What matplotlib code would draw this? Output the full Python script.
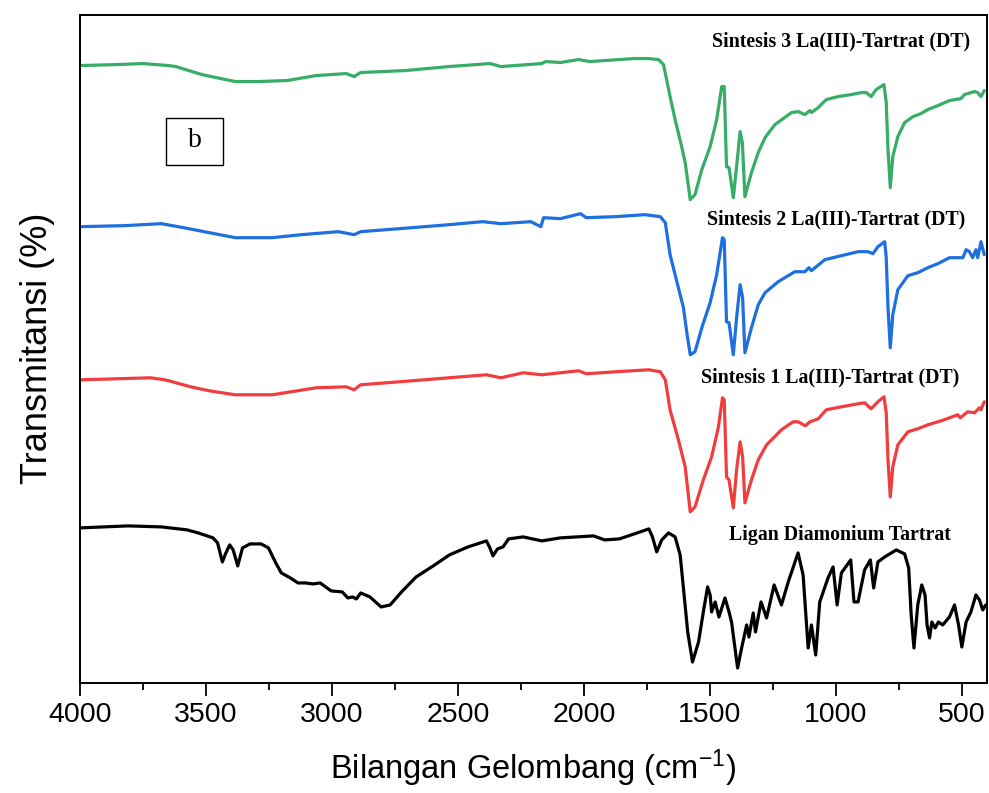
import matplotlib
matplotlib.use("Agg")
import matplotlib.pyplot as plt
from matplotlib.patches import Rectangle
from matplotlib.ticker import MultipleLocator

# FTIR spectra (wavenumber in cm^-1, stacked transmittance in arbitrary units)
wn_s3 = [4000, 3853, 3751, 3648, 3620, 3517, 3384, 3296, 3179, 3062, 2944, 2912, 2886,
         2709, 2535, 2373, 2329, 2167, 2152, 2094, 2021, 1977, 1800, 1743, 1704, 1684,
         1658, 1638, 1612, 1598, 1578, 1559, 1532, 1499, 1473, 1453, 1443, 1434, 1424,
         1407, 1394, 1380, 1371, 1361, 1335, 1308, 1281, 1242, 1176, 1150, 1123, 1103,
         1097, 1070, 1038, 991, 939, 899, 879, 860, 840, 809, 800, 793, 784, 774, 754,
         727, 694, 662, 635, 595, 549, 503, 490, 464, 450, 437, 424, 411]
t_s3 = [617, 618, 619, 617, 616, 608, 601, 601, 602, 607, 609, 606, 610,
        612, 616, 619, 616, 619, 621, 620, 623, 621, 624, 624, 623, 618,
        586, 563, 536, 520, 483, 488, 513, 536, 563, 596, 596, 516, 515,
        485, 516, 551, 540, 486, 510, 530, 545, 558, 570, 571, 568, 572,
        570, 575, 583, 586, 588, 590, 590, 586, 593, 598, 580, 533, 495, 526, 546,
        560, 566, 569, 573, 577, 582, 584, 588, 590, 591, 590, 586, 592]

wn_s2 = [4000, 3826, 3677, 3589, 3487, 3384, 3237, 3121, 2975, 2912, 2886, 2682, 2535,
         2402, 2329, 2211, 2171, 2160, 2094, 2013, 1991, 1874, 1757, 1697, 1677, 1658,
         1631, 1605, 1592, 1578, 1559, 1532, 1499, 1473, 1450, 1443, 1434, 1424, 1407,
         1394, 1380, 1370, 1361, 1335, 1308, 1281, 1229, 1163, 1123, 1107, 1097, 1044,
         978, 912, 873, 853, 833, 806, 800, 793, 784, 774, 754, 714, 675, 635, 595,
         549, 496, 483, 470, 457, 444, 437, 424, 411]
t_s2 = [456, 457, 459, 455, 450, 445, 445, 448, 451, 448, 451, 455, 458,
        461, 459, 461, 456, 465, 464, 469, 465, 466, 468, 466, 460, 428,
        401, 375, 351, 328, 331, 355, 380, 408, 445, 443, 361, 360, 328,
        365, 398, 385, 330, 355, 378, 390, 401, 411, 411, 415, 412, 423,
        427, 431, 431, 429, 436, 441, 425, 375, 335, 368, 393, 407, 410, 415, 419,
        425, 425, 433, 431, 425, 433, 425, 441, 428]

wn_s1 = [4000, 3853, 3721, 3663, 3561, 3487, 3384, 3237, 3062, 2944, 2912, 2886, 2682,
         2535, 2387, 2329, 2241, 2167, 2021, 1991, 1874, 1743, 1697, 1677, 1658, 1625,
         1598, 1578, 1559, 1526, 1493, 1466, 1450, 1443, 1434, 1424, 1407, 1394, 1380,
         1370, 1361, 1335, 1308, 1275, 1216, 1170, 1150, 1121, 1103, 1070, 1038, 978,
         912, 886, 860, 833, 809, 800, 793, 784, 774, 754, 714, 675, 635, 582, 516,
         506, 477, 450, 430, 424, 411]
t_s1 = [303, 304, 305, 303, 296, 292, 288, 288, 295, 296, 293, 298, 302,
        305, 308, 305, 310, 308, 312, 309, 311, 313, 311, 303, 273, 243,
        216, 171, 176, 203, 226, 256, 285, 283, 206, 203, 175, 213, 241,
        226, 180, 203, 223, 238, 253, 261, 261, 257, 261, 264, 273, 276,
        279, 280, 274, 281, 286, 270, 223, 186, 216, 238, 251, 254, 258, 262, 268,
        265, 271, 270, 275, 273, 281]

wn_lig = [4000, 3810, 3677, 3575, 3531, 3472, 3454, 3435, 3421, 3406, 3392, 3374, 3355,
          3325, 3281, 3252, 3223, 3201, 3165, 3135, 3105, 3076, 3047, 3003, 2959, 2937,
          2918, 2903, 2886, 2849, 2805, 2769, 2724, 2666, 2592, 2534, 2460, 2387, 2373,
          2361, 2343, 2321, 2299, 2241, 2167, 2094, 1962, 1918, 1859, 1800, 1742, 1728,
          1711, 1691, 1664, 1638, 1618, 1605, 1588, 1569, 1545, 1526, 1509, 1499, 1493,
          1479, 1464, 1440, 1424, 1414, 1390, 1374, 1354, 1345, 1328, 1319, 1297, 1275,
          1245, 1216, 1189, 1150, 1130, 1110, 1097, 1080, 1064, 1031, 1011, 995, 978,
          941, 928, 912, 886, 863, 850, 833, 806, 760, 727, 711, 701, 690, 675, 659,
          646, 638, 628, 619, 606, 593, 576, 549, 529, 513, 500, 483, 464, 444, 430,
          417, 405]
t_lig = [155, 157, 156, 153, 150, 145, 140, 121, 130, 138, 133, 117, 135,
         139, 139, 135, 120, 110, 105, 100, 100, 99, 100, 92, 91, 85,
         86, 84, 90, 86, 76, 78, 91, 106, 118, 128, 136, 142, 135,
         127, 134, 136, 144, 146, 142, 145, 147, 143, 144, 149, 154, 146,
         131, 143, 150, 146, 128, 95, 51, 21, 41, 71, 96, 88, 71,
         81, 66, 85, 71, 61, 15, 35, 58, 46, 70, 51, 81, 65,
         98, 78, 101, 130, 108, 35, 58, 28, 81, 105, 116, 78, 110,
         123, 81, 81, 113, 123, 95, 121, 126, 133, 129, 115, 68, 35, 78, 98,
         88, 58, 45, 61, 55, 61, 58, 66, 78, 58, 36, 61, 71, 88, 83,
         73, 78]

labels = ["Sintesis 3 La(III)-Tartrat (DT)", "Sintesis 2 La(III)-Tartrat (DT)",
          "Sintesis 1 La(III)-Tartrat (DT)", "Ligan Diamonium Tartrat"]
colors = ["#37AD68", "#1E6FE0", "#F03D3D", "#000000"]

fig = plt.figure(figsize=(9.89, 7.93), dpi=100)
ax = fig.add_axes([0.0809, 0.1387, 0.9171, 0.8430])

series = [(wn_s3, t_s3), (wn_s2, t_s2), (wn_s1, t_s1), (wn_lig, t_lig)]
for (w, t), c in zip(series, colors):
    ax.plot(w, t, color=c, lw=2.3, solid_joinstyle="round", solid_capstyle="round")

ax.set_xlim(4000, 400)
ax.set_ylim(0, 668)

# spectrum labels
label_pos = [(469, 641), (488, 463), (512, 305), (542, 148)]
for (x, y), txt in zip(label_pos, labels):
    ax.text(x, y, txt, ha="right", va="center", fontsize=14.3, fontweight="bold",
            family="Liberation Serif")

# panel tag
ax.add_patch(Rectangle((0.0948, 0.7749), 0.0628, 0.0703, transform=ax.transAxes,
                       fill=False, lw=1.0, ec="black"))
ax.text(0.1262, 0.812, "b", transform=ax.transAxes, ha="center", va="center",
        fontsize=20, family="Liberation Serif")

ax.set_yticks([])
ax.xaxis.set_major_locator(MultipleLocator(500))
ax.xaxis.set_minor_locator(MultipleLocator(250))
ax.tick_params(axis="x", which="major", direction="out", length=9, width=1.3,
               labelsize=20.5, pad=5)
ax.tick_params(axis="x", which="minor", direction="out", length=5, width=1.3)
for lab in ax.get_xticklabels():
    lab.set_family("Liberation Sans")
for sp in ax.spines.values():
    sp.set_linewidth(1.4)

ax.set_xlabel(r"Bilangan Gelombang (cm$\mathregular{^{-1}}$)", fontsize=23.5,
              family="Liberation Sans", labelpad=14)
ax.set_ylabel("Transmitansi (%)", fontsize=26, family="Liberation Sans", labelpad=18)

fig.savefig("out.png", dpi=100)
